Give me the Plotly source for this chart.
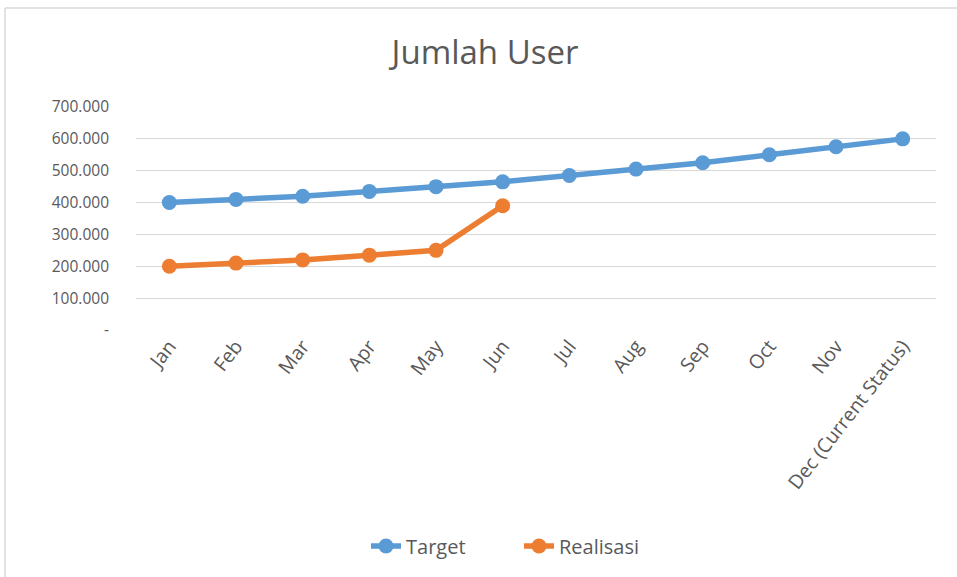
import plotly.graph_objects as go

categories = ["Jan", "Feb", "Mar", "Apr", "May", "Jun", "Jul", "Aug", "Sep", "Oct", "Nov", "Dec (Current Status)"]
target = [400000, 410000, 420000, 435000, 450000, 465000, 485000, 505000, 525000, 550000, 575000, 600000]
realisasi = [200000, 210000, 220000, 235000, 250000, 390000]
y_tickvals = [0, 100000, 200000, 300000, 400000, 500000, 600000, 700000]
y_ticktext = ["-", "100.000", "200.000", "300.000", "400.000", "500.000", "600.000", "700.000"]

OFF = 0  # body margin removed via post_script
W, H = 957 - OFF, 577 - OFF
L, T = 136 - OFF, 107 - OFF
pw, ph = 800, 223
R = W - L - pw
B = H - T - ph

def px_x(px):
    return (px - OFF - L) / pw

def px_y(py):
    return (T + ph - (py - OFF)) / ph

FONT = "Open Sans"
GREY = "#595959"
BORDER = "#D9D9D9"

fig = go.Figure()
fig.add_trace(go.Scatter(
    x=categories, y=target, name="Target", mode="lines+markers",
    line=dict(color="#5B9BD5", width=5.5),
    marker=dict(color="#5B9BD5", size=15),
))
fig.add_trace(go.Scatter(
    x=categories[:len(realisasi)], y=realisasi, name="Realisasi", mode="lines+markers",
    line=dict(color="#ED7D31", width=5.5),
    marker=dict(color="#ED7D31", size=15),
))

fig.update_layout(
    width=W, height=H,
    margin=dict(l=L, r=R, t=T, b=B),
    paper_bgcolor="white", plot_bgcolor="white",
    font=dict(family=FONT, color=GREY),
    title=dict(text="Jumlah User", x=(485 - OFF) / W, xanchor="center",
               y=1 - (52 - OFF) / H, yanchor="middle",
               font=dict(size=33, color=GREY, family=FONT)),
    showlegend=True,
    legend=dict(orientation="h", x=px_x(366), xanchor="left",
                y=px_y(546), yanchor="middle", entrywidth=108, entrywidthmode="pixels",
                font=dict(size=20, color=GREY, family=FONT)),
    shapes=[
        dict(type="line", xref="paper", yref="paper",
             x0=px_x(5), x1=px_x(957), y0=px_y(8), y1=px_y(8),
             line=dict(color=BORDER, width=1.5), layer="below"),
        dict(type="line", xref="paper", yref="paper",
             x0=px_x(5), x1=px_x(5), y0=px_y(8), y1=px_y(577),
             line=dict(color=BORDER, width=1.5), layer="below"),
    ],
)
fig.update_xaxes(
    type="category", categoryorder="array", categoryarray=categories,
    range=[-0.5, len(categories) - 0.5],
    tickangle=-52, tickfont=dict(size=19.5, color=GREY, family=FONT),
    showgrid=False, showline=False, ticks="", zeroline=False,
)
fig.update_yaxes(
    range=[0, 700000], tickvals=y_tickvals, ticktext=y_ticktext,
    tickfont=dict(size=15.5, color=GREY, family=FONT),
    showgrid=True, gridcolor="#D9D9D9", gridwidth=1.3, zeroline=False,
    showline=False, ticks="", ticklabelstandoff=26,
)

fig.write_html("out.html", config={"displayModeBar": False},
               post_script="document.body.style.margin='0';document.body.style.overflow='hidden';")
